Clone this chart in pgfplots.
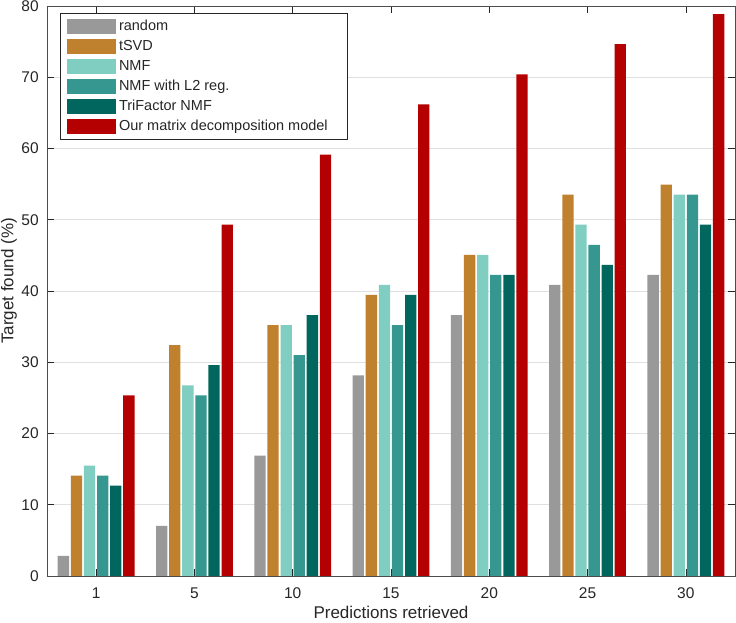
\documentclass[border=0pt]{standalone}
\usepackage{fontspec}
\setmainfont{Liberation Sans}
\usepackage{pgfplots}
\pgfplotsset{compat=1.18}
\definecolor{cgray}{HTML}{999999}
\definecolor{ctan}{HTML}{BF812D}
\definecolor{cnmf}{HTML}{80CDC1}
\definecolor{cltwo}{HTML}{35978F}
\definecolor{ctri}{HTML}{01665E}
\definecolor{cred}{HTML}{B40000}
\definecolor{txt}{HTML}{262626}
\begin{document}
\begin{tikzpicture}
\begin{axis}[
  scale only axis, width=688pt, height=570pt,
  xmin=-0.5, xmax=6.5, ymin=0, ymax=80,
  ybar=1.8pt, bar width=11.3pt,
  xtick={0,...,6}, xticklabels={1,5,10,15,20,25,30},
  ytick={0,10,...,80},
  tick align=inside, tick pos=both,
  major tick length=7pt,
  ymajorgrids, grid style={black!12, line width=0.6pt},
  axis line style={black!70, line width=0.7pt},
  tick style={txt, line width=0.7pt},
  ticklabel style={font=\fontsize{15.5}{18}\selectfont, text=txt},
  xticklabel style={anchor=base, yshift=-23pt},
  yticklabel style={anchor=east, xshift=-4.8pt},
  /pgf/number format/assume math mode=true,
  xlabel={Predictions retrieved}, ylabel={Target found (\%)},
  label style={font=\fontsize{17}{20}\selectfont, text=txt},
  xlabel style={at={(axis description cs:0.5,0)}, anchor=base, yshift=-43pt},
  ylabel style={at={(axis description cs:0,0.5)}, anchor=base, yshift=33.7pt, xshift=10pt},
  legend style={at={(0.0189,0.988)}, anchor=north west, draw=txt, line width=1pt, fill=white,
    font=\fontsize{14.5}{17}\selectfont, text=txt, inner xsep=6.5pt, inner ysep=5.5pt,
    nodes={inner xsep=1pt, inner ysep=1pt, text height=10.5pt, text depth=3pt}, row sep=4.5pt,
    /tikz/every odd column/.append style={column sep=2pt}},
  legend cell align=left,
  legend image code/.code={\fill[#1,draw=none] (0pt,-7.5pt) rectangle (49pt,7.5pt);},
]
\addplot[fill=cgray, draw=none] coordinates {(0,2.82) (1,7.04) (2,16.90) (3,28.17) (4,36.62) (5,40.85) (6,42.25)};
\addplot[fill=ctan, draw=none] coordinates {(0,14.08) (1,32.39) (2,35.21) (3,39.44) (4,45.07) (5,53.52) (6,54.93)};
\addplot[fill=cnmf, draw=none] coordinates {(0,15.49) (1,26.76) (2,35.21) (3,40.85) (4,45.07) (5,49.30) (6,53.52)};
\addplot[fill=cltwo, draw=none] coordinates {(0,14.08) (1,25.35) (2,30.99) (3,35.21) (4,42.25) (5,46.48) (6,53.52)};
\addplot[fill=ctri, draw=none] coordinates {(0,12.68) (1,29.58) (2,36.62) (3,39.44) (4,42.25) (5,43.66) (6,49.30)};
\addplot[fill=cred, draw=none] coordinates {(0,25.35) (1,49.30) (2,59.15) (3,66.20) (4,70.42) (5,74.65) (6,78.87)};
\legend{random, tSVD, NMF, NMF with L2 reg., TriFactor NMF, Our matrix decomposition model\hspace*{12pt}}
\end{axis}
\pgfresetboundingbox
\path[use as bounding box] (-47pt,-47pt) rectangle (689pt,576pt);
\end{tikzpicture}
\end{document}
